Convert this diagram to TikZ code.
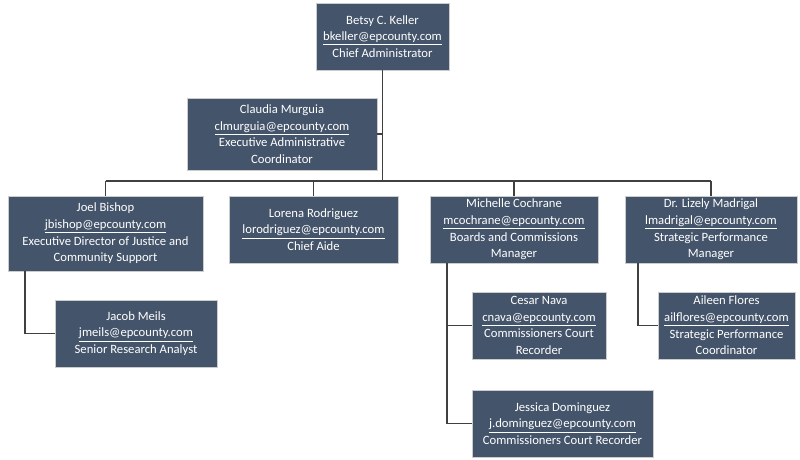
\documentclass[tikz,border=0pt]{standalone}
\usepackage{fontspec}
\setmainfont{Carlito}
\definecolor{boxblue}{HTML}{44546A}
\definecolor{linegray}{HTML}{404040}
\begin{document}
\begin{tikzpicture}[x=0.75pt,y=-0.75pt,
  box/.style 2 args={draw=gray!40, fill=boxblue, text=white, align=center,
    inner sep=0pt, minimum width=#1*0.75pt, minimum height=#2*0.75pt,
    font=\fontsize{9.5}{12.5}\selectfont},
  link/.style={draw=linegray, line width=0.8pt}]
\useasboundingbox (0,0) rectangle (800,460);

% top
\node[box={133}{67}] (betsy) at (382.5,36.5) {Betsy C. Keller\\\underline{bkeller@epcounty.com}\\Chief Administrator};
\node[box={190}{72}] (claudia) at (282,134) {Claudia Murguia\\\underline{clmurguia@epcounty.com}\\Executive Administrative\\Coordinator};

% second row
\node[box={195}{75}] (joel) at (105.5,233.5) {Joel Bishop\\\underline{jbishop@epcounty.com}\\Executive Director of Justice and\\Community Support};
\node[box={169}{67}] (lorena) at (313.5,229.5) {Lorena Rodriguez\\\underline{lorodriguez@epcounty.com}\\Chief Aide};
\node[box={168}{67}] (michelle) at (514,229.5) {Michelle Cochrane\\\underline{mcochrane@epcounty.com}\\Boards and Commissions\\Manager};
\node[box={172}{67}] (lizely) at (711,229.5) {Dr. Lizely Madrigal\\\underline{lmadrigal@epcounty.com}\\Strategic Performance\\Manager};

% third row
\node[box={162}{67}] (jacob) at (136,333.5) {Jacob Meils\\\underline{jmeils@epcounty.com}\\Senior Research Analyst};
\node[box={134}{67}] (cesar) at (539,325.5) {Cesar Nava\\\underline{cnava@epcounty.com}\\Commissioners Court\\Recorder};
\node[box={181}{67}] (jessica) at (562.5,423.5) {Jessica Dominguez\\\underline{j.dominguez@epcounty.com}\\Commissioners Court Recorder};
\node[box={137}{67}] (aileen) at (726.5,325.5) {Aileen Flores\\\underline{ailflores@epcounty.com}\\Strategic Performance\\Coordinator};

% connectors
\coordinate (bus) at (382.5,181);
\coordinate (joeltap) at (25,271);
\coordinate (michtap) at (447,263);
\coordinate (liztap) at (638,263);
\draw[link] (betsy.south) -- (bus);
\draw[link] (claudia.east) -- (claudia.east -| bus);
\draw[link] (joel.north |- bus) -- (lizely.north |- bus);
\foreach \n in {joel,lorena,michelle,lizely}
  \draw[link] (\n.north |- bus) -- (\n.north);
\draw[link] (joeltap) |- (jacob.west);
\draw[link] (michtap) |- (jessica.west);
\draw[link] (cesar.west -| michtap) -- (cesar.west);
\draw[link] (liztap) |- (aileen.west);
\end{tikzpicture}
\end{document}
